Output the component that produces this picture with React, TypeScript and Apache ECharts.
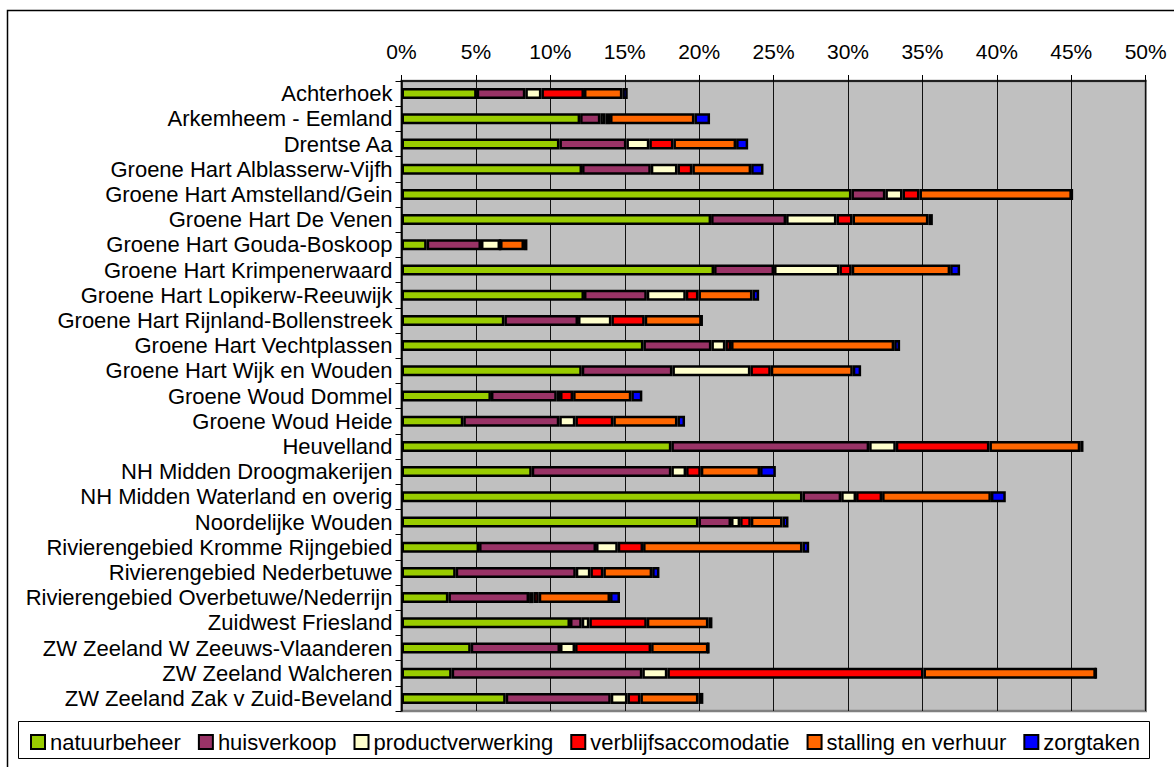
import React, { useEffect, useRef } from "react";
import * as echarts from "echarts";

const categories = [
  "Achterhoek",
  "Arkemheem - Eemland",
  "Drentse Aa",
  "Groene Hart Alblasserw-Vijfh",
  "Groene Hart Amstelland/Gein",
  "Groene Hart De Venen",
  "Groene Hart Gouda-Boskoop",
  "Groene Hart Krimpenerwaard",
  "Groene Hart Lopikerw-Reeuwijk",
  "Groene Hart Rijnland-Bollenstreek",
  "Groene Hart Vechtplassen",
  "Groene Hart Wijk en Wouden",
  "Groene Woud Dommel",
  "Groene Woud Heide",
  "Heuvelland",
  "NH Midden Droogmakerijen",
  "NH Midden Waterland en overig",
  "Noordelijke Wouden",
  "Rivierengebied Kromme Rijngebied",
  "Rivierengebied Nederbetuwe",
  "Rivierengebied Overbetuwe/Nederrijn",
  "Zuidwest Friesland",
  "ZW Zeeland W Zeeuws-Vlaanderen",
  "ZW Zeeland Walcheren",
  "ZW Zeeland Zak v Zuid-Beveland",
];

const natuurbeheer = [5.05, 12.0, 10.61, 12.13, 30.23, 20.8, 1.69, 21.0, 12.26, 6.91, 16.25, 12.11, 6.01, 4.15, 18.13, 8.75, 26.94, 19.95, 5.21, 3.64, 3.15, 11.32, 4.65, 3.37, 7.0];
const huisverkoop = [3.27, 1.36, 4.5, 4.62, 2.28, 5.04, 3.65, 4.03, 4.22, 4.95, 4.57, 6.09, 4.42, 6.45, 13.29, 9.38, 2.6, 2.19, 7.86, 8.07, 5.42, 0.79, 6.0, 12.81, 7.06];
const productverwerking = [1.08, 0.34, 1.54, 1.79, 1.15, 3.38, 1.28, 4.39, 2.62, 2.24, 0.94, 5.24, 0.22, 1.08, 1.79, 0.99, 1.0, 0.61, 1.46, 0.98, 0.29, 0.51, 1.01, 1.68, 1.12];
const verblijfsaccomodatie = [2.86, 0.31, 1.62, 1.0, 1.14, 1.08, 0, 0.83, 0.85, 2.24, 0.38, 1.37, 0.88, 2.55, 6.29, 0.99, 1.75, 0.72, 1.7, 0.87, 0.36, 3.86, 5.11, 17.21, 0.87];
const stallingEnVerhuur = [2.58, 5.67, 4.21, 3.95, 10.24, 5.1, 1.61, 6.61, 3.63, 3.83, 10.96, 5.51, 3.91, 4.31, 6.1, 3.98, 7.31, 2.13, 10.71, 3.28, 4.79, 4.14, 3.85, 11.58, 3.9];
const zorgtaken = [0.36, 1.05, 0.81, 0.83, 0, 0.3, 0.23, 0.67, 0.45, 0, 0.4, 0.56, 0.74, 0.51, 0.22, 1.06, 1.0, 0.4, 0.45, 0.49, 0.67, 0.27, 0, 0, 0.33];

const seriesNames = ["natuurbeheer", "huisverkoop", "productverwerking", "verblijfsaccomodatie", "stalling en verhuur", "zorgtaken"];
const seriesData = [natuurbeheer, huisverkoop, productverwerking, verblijfsaccomodatie, stallingEnVerhuur, zorgtaken];
const seriesColors = ["#99CC00", "#993366", "#FFFFCC", "#FF0000", "#FF6600", "#0000FF"];

const FONT = "'Liberation Sans', Arial, sans-serif";

export default function App() {
  const ref = useRef<HTMLDivElement>(null);
  useEffect(() => {
    if (!ref.current) return;
    const chart = echarts.init(ref.current, undefined, { renderer: "svg" });
    chart.setOption({
      animation: false,
      backgroundColor: "#ffffff",
      textStyle: { fontFamily: FONT },
      graphic: [
        {
          type: "rect",
          shape: { x: 7.5, y: 10.5, width: 1200, height: 800 },
          style: { fill: "none", stroke: "#000", lineWidth: 1.5 },
          z: 0,
        },
        {
          type: "rect",
          shape: { x: 18.5, y: 721.5, width: 1131, height: 37 },
          style: { fill: "#fff", stroke: "#000", lineWidth: 1 },
          z: 0,
        },
      ],
      grid: {
        left: 401.5,
        top: 81,
        width: 744.2,
        height: 630,
        show: true,
        backgroundColor: "#C0C0C0",
        borderColor: "#808080",
        borderWidth: 2.5,
        containLabel: false,
      },
      legend: {
        left: 25,
        top: 726,
        itemWidth: 14,
        itemHeight: 14,
        itemGap: 17,
        icon: "rect",
        textStyle: { fontSize: 22, color: "#000", fontFamily: FONT },
        data: seriesNames,
      },
      xAxis: {
        type: "value",
        position: "top",
        min: 0,
        max: 50,
        interval: 5,
        axisLine: { show: true, lineStyle: { color: "#000", width: 1.5 } },
        axisTick: { show: true, inside: false, length: 6, lineStyle: { color: "#000", width: 1 } },
        axisLabel: { formatter: "{value}%", fontSize: 21, color: "#000", margin: 19, fontFamily: FONT },
        splitLine: { show: true, lineStyle: { color: "#111", width: 1 } },
      },
      yAxis: {
        type: "category",
        inverse: true,
        data: categories,
        axisLine: { show: true, lineStyle: { color: "#000", width: 1.5 } },
        axisTick: { show: true, inside: false, length: 6, alignWithLabel: false, interval: 0, lineStyle: { color: "#000" } },
        axisLabel: { interval: 0, fontSize: 22, color: "#000", margin: 9, fontFamily: FONT },
        splitLine: { show: false },
      },
      series: seriesNames.map((name, i) => ({
        name,
        type: "bar",
        stack: "total",
        barWidth: 11,
        data: seriesData[i],
        itemStyle: { color: seriesColors[i], borderColor: "#000", borderWidth: 2.5 },
      })),
    });
    return () => chart.dispose();
  }, []);
  return (
    <div
      ref={ref}
      style={{ position: "fixed", left: 0, top: 0, width: 1174, height: 767 }}
    />
  );
}
